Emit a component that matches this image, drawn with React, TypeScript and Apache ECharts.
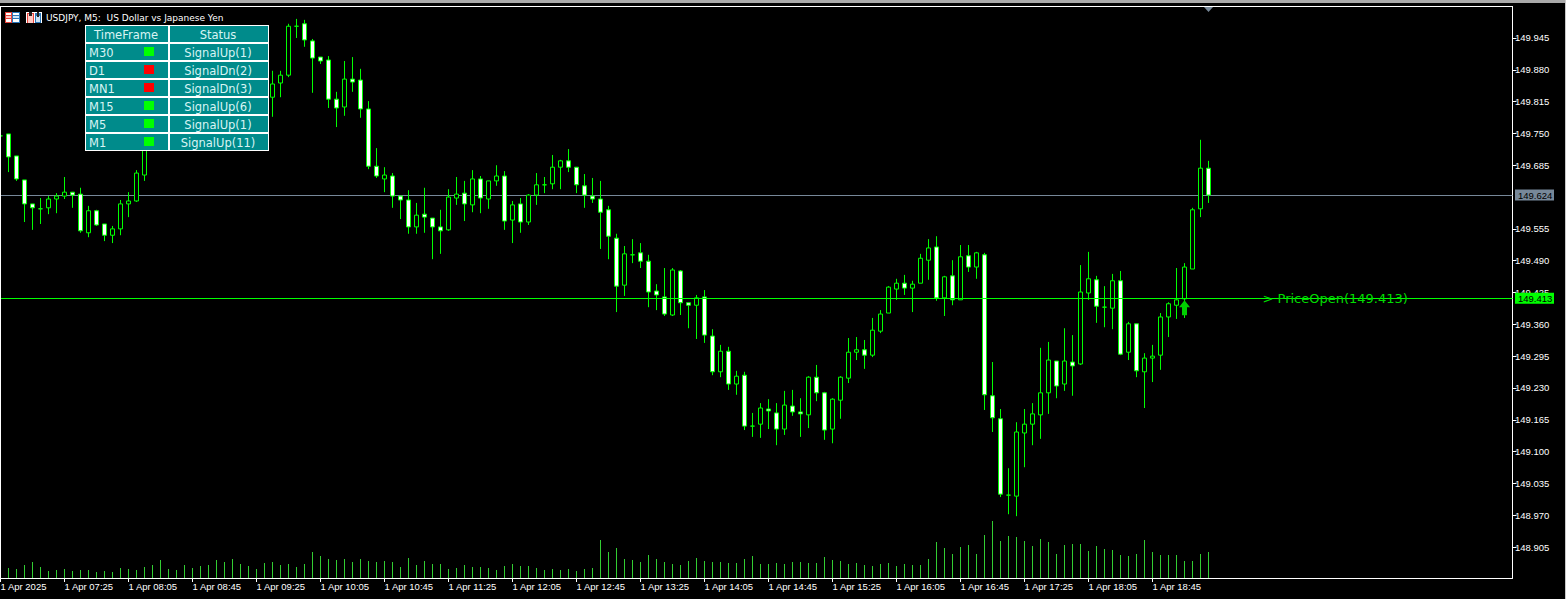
import React, { useEffect, useRef } from "react";
import * as echarts from "echarts";

// Prices are in thousandths of a yen (149745 = 149.745).
// Bars 19 to 33 sit behind the status table in the reference, so those values are estimates.
const highs = [149747,149749,149704,149655,149606,149618,149622,149628,149661,149630,149639,149602,149594,149565,149561,149614,149630,149675,149743,149777,149794,149798,149802,149822,149820,149835,149851,149849,149843,149863,149859,149859,149867,149863,149878,149878,149974,149984,149982,149943,149906,149908,149835,149898,149906,149882,149816,149720,149681,149669,149622,149634,149608,149639,149577,149594,149636,149661,149653,149675,149663,149653,149685,149673,149612,149618,149626,149669,149661,149706,149696,149718,149681,149667,149659,149653,149602,149545,149520,149534,149526,149502,149442,149475,149475,149471,149404,149420,149430,149350,149318,149314,149265,149263,149179,149199,149207,149199,149224,149226,149209,149254,149277,149222,149209,149254,149332,149334,149328,149373,149389,149438,149453,149461,149449,149504,149534,149540,149459,149491,149522,149522,149508,149506,149283,149187,149066,149160,149187,149199,149312,149324,149285,149352,149338,149481,149508,149459,149438,149463,149469,149365,149361,149301,149318,149383,149405,149475,149485,149598,149737,149694];
const lows = [149743,149671,149653,149569,149553,149565,149585,149587,149616,149598,149547,149538,149561,149530,149526,149542,149579,149610,149653,149724,149757,149753,149761,149782,149790,149794,149810,149802,149806,149822,149818,149814,149831,149816,149784,149824,149865,149945,149927,149833,149892,149802,149763,149786,149835,149782,149677,149659,149630,149598,149575,149545,149545,149547,149493,149504,149551,149604,149571,149589,149587,149596,149643,149553,149526,149547,149563,149604,149628,149636,149636,149671,149628,149598,149608,149514,149493,149385,149418,149485,149475,149395,149389,149377,149377,149379,149352,149330,149322,149256,149252,149226,149216,149144,149130,149128,149146,149113,149134,149173,149130,149148,149203,149124,149117,149167,149240,149287,149269,149293,149342,149383,149410,149420,149385,149444,149451,149408,149377,149399,149410,149467,149453,149185,149140,149007,148972,148968,149068,149113,149126,149177,149209,149224,149214,149277,149410,149363,149354,149350,149297,149287,149252,149189,149242,149267,149334,149371,149373,149473,149579,149608];
const opens = [149745,149749,149704,149655,149606,149596,149598,149616,149622,149630,149626,149547,149592,149565,149542,149555,149606,149612,149665,149737,149765,149786,149769,149794,149812,149798,149822,149839,149814,149831,149851,149826,149843,149855,149824,149853,149869,149969,149974,149939,149906,149900,149820,149804,149861,149859,149800,149683,149657,149663,149622,149614,149559,149585,149577,149559,149553,149618,149628,149604,149657,149616,149653,149663,149573,149606,149569,149624,149645,149647,149681,149694,149681,149643,149622,149616,149594,149536,149440,149502,149506,149489,149428,149416,149379,149469,149404,149399,149416,149336,149263,149305,149238,149256,149152,149156,149187,149179,149146,149193,149181,149175,149252,149220,149146,149205,149250,149303,149308,149297,149346,149383,149432,149444,149434,149444,149491,149518,149414,149459,149410,149500,149477,149502,149214,149167,149011,149009,149138,149156,149175,149220,149285,149238,149283,149279,149424,149451,149395,149393,149449,149303,149361,149263,149291,149297,149375,149399,149412,149473,149596,149679];
const closes = [149745,149702,149657,149606,149598,149596,149616,149622,149630,149624,149551,149592,149563,149542,149555,149606,149612,149669,149737,149765,149786,149769,149794,149812,149798,149822,149839,149814,149831,149851,149826,149843,149855,149824,149851,149869,149969,149969,149941,149904,149898,149820,149802,149861,149855,149800,149683,149663,149665,149622,149614,149559,149583,149579,149559,149551,149620,149626,149606,149657,149618,149653,149663,149571,149604,149569,149624,149645,149645,149681,149694,149681,149645,149624,149616,149589,149540,149438,149504,149502,149489,149426,149420,149381,149471,149404,149399,149414,149338,149263,149305,149238,149254,149152,149152,149189,149183,149146,149195,149181,149177,149252,149220,149144,149207,149252,149303,149308,149297,149348,149381,149436,149444,149434,149442,149495,149516,149414,149457,149410,149498,149477,149506,149216,149169,149013,149011,149140,149156,149177,149220,149287,149234,149285,149275,149426,149453,149397,149395,149449,149299,149361,149265,149291,149295,149375,149402,149410,149477,149594,149679,149624];
const volumes = [9,10,9,13,16,11,7,8,9,7,8,8,6,7,6,10,9,8,11,13,18,9,8,13,10,12,13,18,16,19,14,12,9,15,16,13,14,11,14,26,22,19,18,19,16,19,17,16,17,16,11,20,13,17,14,14,9,10,13,11,11,10,8,12,14,12,12,10,8,9,8,9,7,9,10,38,26,30,19,18,16,23,19,16,14,13,17,20,17,16,16,15,15,19,22,14,14,15,14,16,16,15,15,21,18,17,14,15,13,12,14,15,12,14,13,13,19,36,30,24,31,33,24,43,57,37,42,41,37,32,39,36,24,33,34,34,27,32,29,28,23,22,24,38,26,23,23,23,17,17,24,26];

const priceTicks = [148.905,148.97,149.035,149.1,149.165,149.23,149.295,149.36,149.425,149.49,149.555,149.685,149.75,149.815,149.88,149.945];
const timeTicks = ["1 Apr 2025","1 Apr 07:25","1 Apr 08:05","1 Apr 08:45","1 Apr 09:25","1 Apr 10:05","1 Apr 10:45","1 Apr 11:25","1 Apr 12:05","1 Apr 12:45","1 Apr 13:25","1 Apr 14:05","1 Apr 14:45","1 Apr 15:25","1 Apr 16:05","1 Apr 16:45","1 Apr 17:25","1 Apr 18:05","1 Apr 18:45"];
const barsPerTick = 8;
const slotCount = 190;

const bidPrice = 149.624;
const openPrice = 149.413;
const arrowBar = 148;
const arrowPrice = 149.394;
const noteBar = 158;
const noteText = "> PriceOpen(149.413)";

const tableHead = ["TimeFrame", "Status"];
const tableFrames = ["M30", "D1", "MN1", "M15", "M5", "M1"];
const tableUp = [true, false, false, true, true, true];
const tableStatus = ["SignalUp(1)", "SignalDn(2)", "SignalDn(3)", "SignalUp(6)", "SignalUp(1)", "SignalUp(11)"];
const title = "USDJPY, M5:  US Dollar vs Japanese Yen";

const GREEN = "#00ff00";
const AXIS_FONT = "'Liberation Sans', sans-serif";
const UI_FONT = "'DejaVu Sans', sans-serif";
const ARROW = "path://M5.5 0 L11 7 L8 7 L8 15 L3 15 L3 7 L0 7 Z";

function tableGraphics(): any[] {
  const out: any[] = [];
  const top = 25, rowH = 18, left = 85, mid = 169, right = 269;
  const rows = tableFrames.length + 1;
  out.push({ type: "rect", shape: { x: left, y: top, width: right - left, height: rowH * rows }, style: { fill: "#ffffff" }, z: 20 });
  for (let r = 0; r < rows; r++) {
    const y = top + r * rowH;
    out.push({ type: "rect", shape: { x: left + 1, y: y + 1, width: mid - left - 2, height: rowH - 2 }, style: { fill: "#008b8b" }, z: 21 });
    out.push({ type: "rect", shape: { x: mid + 1, y: y + 1, width: right - mid - 2, height: rowH - 2 }, style: { fill: "#008b8b" }, z: 21 });
    const cy = y + 10;
    const base = { textVerticalAlign: "middle", fill: "#d8f4f4", font: `11.5px ${UI_FONT}` };
    if (r === 0) {
      out.push({ type: "text", x: (left + mid) / 2 - 1, y: cy, z: 22, style: { ...base, text: tableHead[0], textAlign: "center" } });
      out.push({ type: "text", x: (mid + right) / 2 - 1, y: cy, z: 22, style: { ...base, text: tableHead[1], textAlign: "center" } });
    } else {
      const i = r - 1;
      out.push({ type: "text", x: left + 4, y: cy, z: 22, style: { ...base, text: tableFrames[i], textAlign: "left" } });
      out.push({ type: "rect", shape: { x: 144, y: y + 4, width: 10, height: 9 }, z: 22, style: { fill: tableUp[i] ? "#00ff00" : "#ff0000" } });
      out.push({ type: "text", x: (mid + right) / 2 - 1, y: cy, z: 22, style: { ...base, text: tableStatus[i], textAlign: "center" } });
    }
  }
  return out;
}

function iconGraphics(): any[] {
  const r = (x: number, y: number, width: number, height: number, fill: string) => ({ type: "rect", shape: { x, y, width, height }, style: { fill }, z: 22 });
  return [
    r(5, 12, 15, 11, "#ffffff"),
    r(5, 12, 7, 11, "#e8433a"), r(12, 12, 8, 11, "#2a76b8"),
    r(6, 13, 5, 2, "#ffffff"), r(6, 16, 5, 2, "#ffc9c4"), r(6, 19, 5, 3, "#ffffff"),
    r(13, 13, 6, 2, "#ffffff"), r(13, 16, 6, 2, "#cfe3f5"), r(13, 19, 6, 3, "#ffffff"),
    r(26, 12, 16, 11, "#ffffff"),
    r(27, 13, 7, 10, "#e8433a"), r(28, 14, 5, 9, "#ffc9c4"), r(29, 12, 3, 4, "#222222"),
    r(35, 13, 6, 10, "#2a76b8"), r(36, 16, 4, 6, "#cfe3f5"), r(37, 12, 2, 5, "#222222"),
  ];
}

const priceTag = (text: string, background: string) => ({
  position: "end",
  distance: 2.5,
  formatter: () => text,
  backgroundColor: background,
  color: "#000000",
  width: 36,
  height: 11,
  lineHeight: 11,
  padding: [0, 0, 0, 3],
  align: "left",
  fontSize: 9.5,
  fontFamily: AXIS_FONT,
});

export default function App() {
  const ref = useRef<HTMLDivElement>(null);
  useEffect(() => {
    document.body.style.margin = "0";
    document.body.style.background = "#000";
    const chart = echarts.init(ref.current!, undefined, { renderer: "svg" });
    const k = (v: number) => v / 1000;
    const candles = opens.map((o, i) => [k(o), k(closes[i]), k(lows[i]), k(highs[i])]);
    const categories = Array.from({ length: slotCount }, (_, i) => String(i));
    const onTick = (i: number) => i % barsPerTick === 0 && i / barsPerTick < timeTicks.length;
    chart.setOption({
      animation: false,
      backgroundColor: "#000000",
      grid: { left: 0.5, top: 7, width: 1512, height: 571, containLabel: false, outerBoundsMode: "none" },
      xAxis: {
        type: "category",
        data: categories,
        boundaryGap: false,
        axisLine: { lineStyle: { color: "#ffffff", width: 1 } },
        axisTick: { interval: onTick, length: 4, lineStyle: { color: "#ffffff" } },
        axisLabel: {
          interval: onTick,
          formatter: (_: string, i: number) => timeTicks[i / barsPerTick] ?? "",
          align: "left",
          margin: 3,
          color: "#ffffff",
          fontSize: 9.5,
          fontFamily: AXIS_FONT,
        },
        splitLine: { show: false },
      },
      yAxis: [
        {
          type: "value",
          position: "right",
          min: 148.8417,
          max: 150.0083,
          scale: true,
          axisLine: { show: true, lineStyle: { color: "#ffffff", width: 1 } },
          axisTick: { show: true, length: 4, customValues: priceTicks, lineStyle: { color: "#ffffff" } },
          axisLabel: {
            customValues: priceTicks,
            formatter: (v: number) => v.toFixed(3),
            margin: 2.5,
            color: "#ffffff",
            fontSize: 9.5,
            fontFamily: AXIS_FONT,
            showMinLabel: true,
            showMaxLabel: true,
          },
          splitLine: { show: false },
        },
        { type: "value", min: 0, max: 571, show: false, splitLine: { show: false } },
      ],
      series: [
        {
          type: "line",
          data: [],
          z: 1,
          silent: true,
          markLine: {
            silent: true,
            symbol: "none",
            precision: 3,
            z: 1,
            lineStyle: { color: "#778899", type: "solid", width: 1 },
            label: priceTag(bidPrice.toFixed(3), "#778899"),
            data: [{ yAxis: bidPrice }],
          },
        },
        {
          type: "bar",
          yAxisIndex: 1,
          data: volumes,
          barWidth: 1,
          z: 2,
          silent: true,
          itemStyle: { color: "#32cd32" },
        },
        {
          type: "candlestick",
          data: candles,
          barWidth: 4,
          z: 3,
          silent: true,
          itemStyle: {
            color: "#000000",
            color0: "#ffffff",
            borderColor: GREEN,
            borderColor0: GREEN,
            borderWidth: 1,
          },
          markLine: {
            silent: true,
            symbol: "none",
            precision: 3,
            z: 10,
            lineStyle: { color: GREEN, type: "solid", width: 1 },
            label: priceTag(openPrice.toFixed(3), GREEN),
            data: [{ yAxis: openPrice }],
          },
          markPoint: {
            silent: true,
            z: 11,
            data: [
              {
                coord: [arrowBar, arrowPrice],
                symbol: ARROW,
                symbolSize: [11, 15],
                symbolKeepAspect: false,
                itemStyle: { color: "#00d000" },
                label: { show: false },
              },
              {
                coord: [noteBar, openPrice],
                symbol: "circle",
                symbolSize: 0,
                itemStyle: { color: "rgba(0,0,0,0)" },
                label: {
                  show: true,
                  formatter: noteText,
                  position: "right",
                  distance: 0,
                  offset: [-2, 0],
                  color: "#00dc00",
                  fontSize: 13,
                  fontFamily: UI_FONT,
                },
              },
            ],
          },
        },
      ],
      graphic: [
        { type: "rect", shape: { x: 0, y: 0, width: 1566, height: 3 }, style: { fill: "#a9a9a9" }, z: 30 },
        { type: "rect", shape: { x: 0, y: 6, width: 1513, height: 1 }, style: { fill: "#ffffff" }, z: 30 },
        { type: "rect", shape: { x: 0, y: 6, width: 1, height: 573 }, style: { fill: "#ffffff" }, z: 30 },
        { type: "rect", shape: { x: 1565, y: 0, width: 1, height: 599 }, style: { fill: "#c8c8c8" }, z: 30 },
        { type: "polygon", shape: { points: [[1204, 7], [1213, 7], [1208.5, 12]] }, style: { fill: "#778899" }, z: 30 },
        ...iconGraphics(),
        { type: "text", x: 46, y: 17.5, z: 22, style: { text: title, fill: "#ffffff", font: `9px ${UI_FONT}`, textVerticalAlign: "middle", textAlign: "left" } },
        ...tableGraphics(),
      ],
    });
    return () => chart.dispose();
  }, []);
  return <div ref={ref} style={{ width: 1566, height: 599 }} />;
}
